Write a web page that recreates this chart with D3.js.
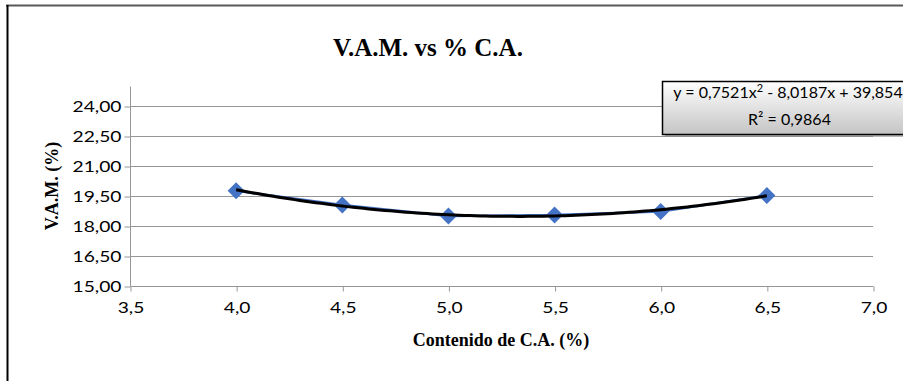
<!DOCTYPE html>
<html>
<head>
<meta charset="utf-8">
<script src="https://cdn.jsdelivr.net/npm/d3@7"></script>
<style>
  html, body { margin: 0; padding: 0; background: #fff; }
  svg { display: block; }
</style>
</head>
<body>
<svg id="chart" width="903" height="381"></svg>
<script>
// Asphalt content (%) vs voids in mineral aggregate (%)
const contenido = [4.0, 4.5, 5.0, 5.5, 6.0, 6.5];
const vam = [19.76, 19.05, 18.50, 18.55, 18.72, 19.52];
const xTicks = [3.5, 4.0, 4.5, 5.0, 5.5, 6.0, 6.5, 7.0];
const yTicks = [15.0, 16.5, 18.0, 19.5, 21.0, 22.5, 24.0];
// Polynomial trendline (order 2)
const coef = { a: 0.7521, b: -8.0187, c: 39.854 };
const r2 = 0.9864;

const svg = d3.select("#chart");
const W = 903, H = 381;
const plot = { left: 130, right: 873, top: 106, bottom: 286 };

const x = d3.scaleLinear().domain([3.5, 7.0]).range([plot.left, plot.right]);
const y = d3.scaleLinear().domain([15, 24]).range([plot.bottom, plot.top]);
const fmt = (d, n) => d.toFixed(n).replace(".", ",");

// Chart frame
svg.append("line").attr("x1", 6).attr("x2", W).attr("y1", 5.5).attr("y2", 5.5)
  .attr("stroke", "#595959").attr("stroke-width", 2);
svg.append("line").attr("x1", 7.5).attr("x2", 7.5).attr("y1", 5).attr("y2", H)
  .attr("stroke", "#000").attr("stroke-width", 2);

// Horizontal gridlines
svg.append("g").selectAll("line").data(yTicks.filter(d => d > 15)).join("line")
  .attr("x1", plot.left).attr("x2", plot.right)
  .attr("y1", d => Math.round(y(d)) + 0.5).attr("y2", d => Math.round(y(d)) + 0.5)
  .attr("stroke", "#969696").attr("stroke-width", 1);

// Y axis
const yAxis = svg.append("g")
  .attr("transform", `translate(${plot.left + 0.5},0.5)`)
  .call(d3.axisLeft(y).tickValues(yTicks).tickFormat(d => fmt(d, 2)).tickSize(6).tickPadding(3));
// X axis
const xAxis = svg.append("g")
  .attr("transform", `translate(0.5,${plot.bottom + 0.5})`)
  .call(d3.axisBottom(x).tickValues(xTicks).tickFormat(d => fmt(d, 1)).tickSize(5).tickPadding(10));

[yAxis, xAxis].forEach(g => {
  g.select(".domain").attr("stroke", "#969696");
  g.selectAll(".tick line").attr("stroke", "#969696");
  g.selectAll(".tick text").attr("fill", "#000")
    .style("font-family", "Lato, 'Liberation Sans', sans-serif").style("font-size", "16px")
    .each(function () {
      // widen the tick labels a little
      const len = this.getComputedTextLength();
      d3.select(this).attr("textLength", len * 1.2).attr("lengthAdjust", "spacingAndGlyphs");
    });
});
xAxis.select(".domain").attr("d", `M${plot.left},0H${plot.right}`);
yAxis.select(".domain").attr("d", `M0,${plot.top - 20}V${plot.bottom}`);

// Data series line
svg.append("path").datum(contenido.map((c, i) => [c, vam[i]]))
  .attr("fill", "none").attr("stroke", "#4472C4").attr("stroke-width", 2.5)
  .attr("d", d3.line().x(d => x(d[0])).y(d => y(d[1])));

// Diamond markers
svg.append("g").selectAll("path").data(contenido.map((c, i) => [c, vam[i]])).join("path")
  .attr("transform", d => `translate(${x(d[0])},${y(d[1])})`)
  .attr("d", "M0,-8.5L8.5,0L0,8.5L-8.5,0Z")
  .attr("fill", "#4472C4");

// Trendline from the fitted polynomial
const trend = d3.range(4.0, 6.5001, 0.025).map(v => [v, coef.a * v * v + coef.b * v + coef.c]);
svg.append("path").datum(trend)
  .attr("fill", "none").attr("stroke", "#000").attr("stroke-width", 3)
  .attr("d", d3.line().x(d => x(d[0])).y(d => y(d[1])));

// Title
svg.append("text").attr("x", 428).attr("y", 56).attr("text-anchor", "middle")
  .style("font-family", "'Liberation Serif', 'Times New Roman', serif")
  .style("font-weight", "bold").style("font-size", "25px")
  .text("V.A.M. vs % C.A.");

// Axis titles
svg.append("text").attr("x", 501).attr("y", 346).attr("text-anchor", "middle")
  .style("font-family", "'Liberation Serif', 'Times New Roman', serif")
  .style("font-weight", "bold").style("font-size", "18px")
  .text("Contenido de C.A. (%)");
svg.append("text").attr("transform", "translate(58,186) rotate(-90)").attr("text-anchor", "middle")
  .style("font-family", "'Liberation Serif', 'Times New Roman', serif")
  .style("font-weight", "bold").style("font-size", "18px")
  .text("V.A.M. (%)");

// Trendline equation box
const defs = svg.append("defs");
const grad = defs.append("linearGradient").attr("id", "boxFill")
  .attr("x1", 0).attr("y1", 0).attr("x2", 0).attr("y2", 1);
grad.append("stop").attr("offset", "0%").attr("stop-color", "#ffffff");
grad.append("stop").attr("offset", "100%").attr("stop-color", "#c4c4c4");

const box = { x: 662, y: 81, w: 254, h: 53 };
svg.append("rect").attr("x", box.x + 3).attr("y", box.y + 3).attr("width", box.w).attr("height", box.h)
  .attr("fill", "#8c8c8c").attr("opacity", 0.6);
svg.append("rect").attr("x", box.x + 0.5).attr("y", box.y + 0.5).attr("width", box.w).attr("height", box.h)
  .attr("fill", "url(#boxFill)").attr("stroke", "#000").attr("stroke-width", 1.5);

const eq = svg.append("text").attr("x", box.x + box.w / 2 - 1).attr("y", 98).attr("text-anchor", "middle")
  .style("font-family", "Lato, 'Liberation Sans', sans-serif").style("font-size", "16px");
eq.append("tspan").text(`y = ${fmt(coef.a, 4)}x`);
eq.append("tspan").attr("dy", -6).style("font-size", "11px").text("2");
eq.append("tspan").attr("dy", 6).text(` - ${fmt(-coef.b, 4)}x + ${fmt(coef.c, 3)}`);

svg.append("text").attr("x", box.x + box.w / 2 + 0.5).attr("y", 125).attr("text-anchor", "middle")
  .style("font-family", "Lato, 'Liberation Sans', sans-serif").style("font-size", "16px")
  .text(`R² = ${fmt(r2, 4)}`);
</script>
</body>
</html>
